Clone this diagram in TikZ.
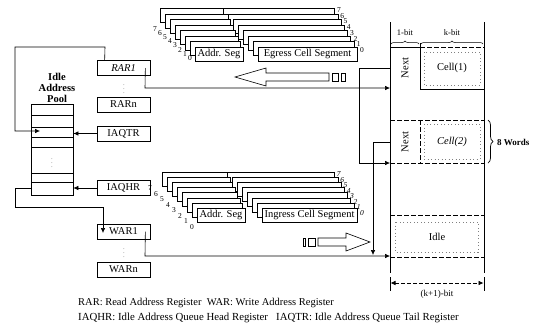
\documentclass[tikz,border=0pt]{standalone}
\usepackage{fontspec}
\setmainfont{Liberation Serif}
\usetikzlibrary{arrows.meta,decorations.pathreplacing,calc}
\begin{document}
\begin{tikzpicture}[x=1pt,y=-1pt,
  font=\fontsize{10.5}{12}\selectfont,
  reg/.style={draw, line width=0.7pt, minimum width=53pt, minimum height=15pt, inner sep=0pt},
  seg/.style={draw, fill=white, line width=0.6pt, minimum height=14pt, inner sep=0pt},
  layer/.style={draw, fill=white, line width=0.45pt},
  conn/.style={line width=0.6pt},
  arr/.style={-{Latex[length=5pt,width=4.5pt]}},
  dig/.style={inner sep=0pt, font=\fontsize{7.5}{7.5}\selectfont},
  cellline/.style={line width=0.6pt, dash pattern=on 5pt off 2pt},
  dotline/.style={line width=0.4pt, gray, dash pattern=on 1pt off 2.5pt},
  lbl/.style={inner sep=0pt},
]
\fill[white] (0,0) rectangle (536,325);
\useasboundingbox (0,0) rectangle (536,325);

% ---- Idle address pool ----
\node[lbl, font=\bfseries\fontsize{10.5}{11}\selectfont, align=center] (poollbl) at (57,88) {Idle\\Address\\Pool};
\node[draw, line width=0.7pt, minimum width=42pt, minimum height=91pt, inner sep=0pt] (pool) at (52,149.5) {};
\foreach \yy in {115,127,137,147,173,182}
  \draw[line width=0.45pt] (31,\yy) -- (73,\yy);
\node[lbl, font=\fontsize{5}{5}\selectfont] (pooldots) at (52,160) {$\vdots$};

% ---- registers ----
\node[reg] (rar1) at (123.5,68) {\itshape RAR1};
\node[reg] (rarn) at (123.5,104.5) {RARn};
\node[reg] (iaqtr) at (123.5,133.5) {IAQTR};
\node[reg] (iaqhr) at (123.5,188) {IAQHR};
\node[reg] (war1) at (123.5,231.5) {WAR1};
\node[reg] (warn) at (123.5,269.5) {WARn};

% ---- egress stack (top) ----
\foreach \k in {7,6,...,1} {
  \draw[layer] ({195-5*\k},{47-5.5*\k}) rectangle ({243-2.5*\k},{61-5.5*\k});
  \draw[layer] ({258-5*\k},{47-5.5*\k}) rectangle ({357-3.2*\k},{61-5.5*\k});
}
\node[seg, minimum width=48pt] (addrE) at (219,54) {Addr. Seg};
\node[seg, minimum width=99pt] (cellE) at (307.5,54) {Egress Cell Segment};
\foreach \k in {0,...,7} {
  \node[dig] at ({190-5*\k},{58-4.2*\k}) {\k};
  \node[dig] at ({362-3.3*\k},{50-5.7*\k}) {\k};
}

% ---- ingress stack (bottom) ----
\foreach \k in {7,6,...,1} {
  \draw[layer] ({197-5*\k},{208-5.1*\k}) rectangle ({245-2.5*\k},{222-5.1*\k});
  \draw[layer] ({262-5*\k},{208-5.1*\k}) rectangle ({357-3.2*\k},{222-5.1*\k});
}
\node[seg, minimum width=48pt] (addrI) at (221,215) {Addr. Seg};
\node[seg, minimum width=95pt] (cellI) at (309.5,215) {Ingress Cell Segment};
\foreach \k in {0,...,7} {
  \node[dig] at ({192-6*\k},{227-5.5*\k}) {\k};
  \node[dig] at ({362-3.3*\k},{213-5.5*\k}) {\textit{\k}};
}

% ---- hollow arrows ----
\draw[line width=0.6pt] (235,77) -- (266,68) -- (266,73) -- (329,73) -- (329,81) -- (266,81) -- (266,86) -- cycle;
\draw[line width=0.6pt] (332,73) rectangle (338,81);
\draw[line width=0.6pt] (341,73) rectangle (345,81);
\draw[line width=0.6pt] (370,242) -- (346,233) -- (346,238) -- (318,238) -- (318,246) -- (346,246) -- (346,251) -- cycle;
\draw[line width=0.6pt] (308,238) rectangle (315,246);
\draw[line width=0.6pt] (303,238) rectangle (305.5,246);

% ---- memory ----
\coordinate (mtl) at (390,22);
\coordinate (mtr) at (484,22);
\coordinate (mbl) at (390,273);
\coordinate (mbr) at (484,273);
\draw[line width=0.9pt] (mtl) -- (mbl);
\draw[line width=0.9pt] (mtr) -- (mbr);
% cell 1
\draw[line width=0.6pt] (390,47) -- (420,47);
\draw[cellline] (420,47) -- (484,47);
\draw[line width=0.7pt] (420,43) -- (420,89) -- (484,89);
\draw[dotline] (424,52) rectangle (480,85);
% cell 2
\draw[cellline] (390,120) -- (484,120);
\draw[cellline] (420,120) -- (420,163);
\draw[cellline] (390,163) -- (484,163);
\draw[dotline] (424,124) rectangle (480,159);
% idle
\draw[cellline] (390,215) -- (484,215);
\draw[cellline] (390,257) -- (484,257);
\draw[dotline] (395,222) rectangle (478,252);

\node[lbl, rotate=90] (next1) at (405,68) {Next};
\node[lbl, rotate=90] (next2) at (405,142) {Next};
\node[lbl] (cell1) at (452,68) {Cell(1)};
\node[lbl] (cell2) at (452,142) {\itshape Cell(2)};
\node[lbl] (idle) at (437,237) {Idle};

% bit widths
\draw[line width=0.5pt, decorate, decoration={brace, amplitude=3pt}] (391,44) -- (419,44);
\draw[line width=0.5pt, decorate, decoration={brace, amplitude=3pt}] (421,44) -- (483,44);
\node[lbl, font=\fontsize{8.5}{9}\selectfont] (b1) at (405,33) {1-bit};
\node[lbl, font=\fontsize{8.5}{9}\selectfont] (bk) at (452,33) {k-bit};
\draw[line width=0.7pt, decorate, decoration={brace, amplitude=5pt}] (488,120) -- (488,163);
\node[lbl, anchor=west, font=\bfseries\fontsize{9}{10}\selectfont] (words) at (497,142) {8 Words};
\draw[line width=0.8pt] (390,277) -- (390,291);
\draw[line width=0.8pt] (484,277) -- (484,291);
\draw[line width=0.6pt, dash pattern=on 4pt off 2pt, {Latex[length=5pt,width=4.5pt]}-{Latex[length=5pt,width=4.5pt]}] (390.5,283) -- (483.5,283);
\node[lbl, font=\fontsize{9}{10}\selectfont] (kp1) at (437,294) {(k+1)-bit};

% ---- connectors ----
\draw[conn, arr] ([xshift=8pt]rar1.north west) -- (105,47) -- (15,47) -- (15,131) -- (40,131);
\draw[conn, arr] (iaqtr.west) -- (iaqtr.west -| pool.east);
\draw[conn, arr] (iaqhr.west) -- (iaqhr.west -| pool.east);
\draw[conn, arr] (pool.west |- iaqhr.west) -- (15,188) -- (15,207) -- (103,207) -- (103,233);
\draw[conn, arr] ([xshift=-5pt]rar1.east) -- (145,88) -- (mtl |- 0,88);
\draw[conn, arr] (mtl |- 0,68) -- (359,68) -- (359,163) -- (mtl |- 0,163);
\draw[conn, arr] (mtl |- 0,142) -- (373,142) -- (373,255);
\draw[conn, arr] ([xshift=-5pt]war1.east) -- (145,256) -- (mtl |- 0,256);
\node[lbl, font=\fontsize{5}{5}\selectfont] (rdots) at (124,86) {$\vdots$};
\node[lbl, font=\fontsize{5}{5}\selectfont] (wdots) at (124,250) {$\vdots$};

% ---- legend ----
\node[lbl, anchor=west, font=\fontsize{10.5}{12}\selectfont] (leg1) at (78,303) {RAR: Read Address Register\ \ WAR: Write Address Register};
\node[lbl, anchor=west, font=\fontsize{10.8}{12}\selectfont] (leg2) at (78,318) {IAQHR: Idle Address Queue Head Register\ \ \ IAQTR: Idle Address Queue Tail Register};
\end{tikzpicture}
\end{document}
